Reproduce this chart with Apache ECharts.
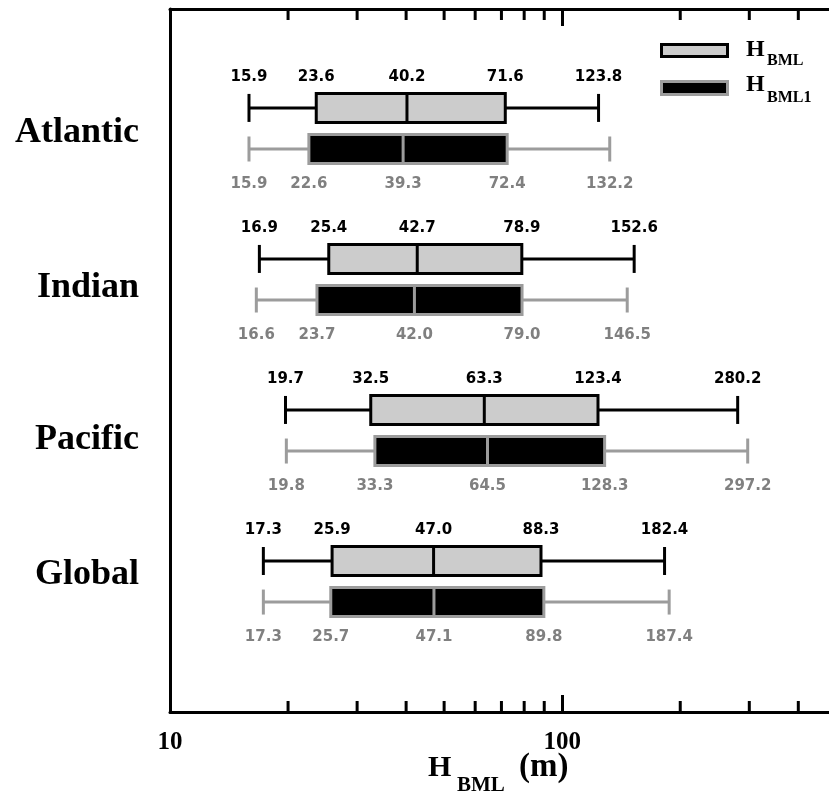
<!DOCTYPE html>
<html><head><meta charset="utf-8">
<script src="https://cdn.jsdelivr.net/npm/echarts@6/dist/echarts.min.js"></script>
<style>html,body{margin:0;padding:0;background:#fff}#c{width:829px;height:803px}</style>
</head><body><div id="c"></div>
<script>
const categories = ['Atlantic', 'Indian', 'Pacific', 'Global'];
// [min, Q1, median, Q3, max]
const hbml = [
  [15.9, 23.6, 40.2, 71.6, 123.8],
  [16.9, 25.4, 42.7, 78.9, 152.6],
  [19.7, 32.5, 63.3, 123.4, 280.2],
  [17.3, 25.9, 47.0, 88.3, 182.4]
];
const hbml1 = [
  [15.9, 22.6, 39.3, 72.4, 132.2],
  [16.6, 23.7, 42.0, 79.0, 146.5],
  [19.8, 33.3, 64.5, 128.3, 297.2],
  [17.3, 25.7, 47.1, 89.8, 187.4]
];
const majorTicks = [10, 100];
const minorTicks = [20, 30, 40, 50, 60, 70, 80, 90, 200, 300, 400];
const xMin = 10, xMax = 479;
const yMin = -0.791, yMax = 3.864;
// layout only: vertical nudge (px) of each category name
const catLabelNudge = [4.5, 8.5, 9.5, -6.5];

const SERIF = '"Liberation Serif", "Times New Roman", serif';
const SANS = '"DejaVu Sans", sans-serif';

function makeRender(st) {
  return function (params, api) {
    const i = api.value(0);
    const xs = [1, 2, 3, 4, 5].map(k => api.coord([api.value(k), i])[0]);
    const vals = [1, 2, 3, 4, 5].map(k => api.value(k));
    const base = api.coord([xMin, i]);
    const unit = api.size([0, 1])[1];
    const yc = base[1] + st.offset * unit;
    const h = st.boxH;
    const children = [];
    const ls = { stroke: st.stroke, lineWidth: 3 };
    children.push({ type: 'line', shape: { x1: xs[0], y1: yc, x2: xs[1], y2: yc }, style: ls });
    children.push({ type: 'line', shape: { x1: xs[3], y1: yc, x2: xs[4], y2: yc }, style: ls });
    children.push({ type: 'line', shape: { x1: xs[0], y1: yc - st.capH / 2, x2: xs[0], y2: yc + st.capH / 2 }, style: ls });
    children.push({ type: 'line', shape: { x1: xs[4], y1: yc - st.capH / 2, x2: xs[4], y2: yc + st.capH / 2 }, style: ls });
    children.push({ type: 'rect', shape: { x: xs[1], y: yc - h / 2, width: xs[3] - xs[1], height: h },
      style: { fill: st.fill, stroke: st.stroke, lineWidth: 3 } });
    children.push({ type: 'line', shape: { x1: xs[2], y1: yc - h / 2, x2: xs[2], y2: yc + h / 2 }, style: ls });
    for (let k = 0; k < 5; k++) {
      children.push({ type: 'text', style: {
        text: vals[k].toFixed(1), x: xs[k], y: yc + st.labelDy,
        align: 'center', verticalAlign: 'middle',
        font: 'bold 15px ' + SANS, fill: st.labelColor } });
    }
    if (st.catLabel) {
      children.push({ type: 'text', style: {
        text: categories[i], x: base[0] - 31, y: base[1] + catLabelNudge[i],
        align: 'right', verticalAlign: 'middle',
        font: 'bold 36px ' + SERIF, fill: '#000' } });
    }
    return { type: 'group', children };
  };
}

function renderTicks(params, api) {
  const v = api.value(0);
  const t = api.coord([v, yMin]);
  const b = api.coord([v, yMax]);
  const ls = { stroke: '#000', lineWidth: 3 };
  return { type: 'group', children: [
    { type: 'line', shape: { x1: t[0], y1: t[1], x2: t[0], y2: t[1] + 11 }, style: ls },
    { type: 'line', shape: { x1: b[0], y1: b[1], x2: b[0], y2: b[1] - 11 }, style: ls }
  ] };
}

const xAxisCommon = {
  type: 'log', logBase: 10, min: xMin, max: xMax,
  axisLine: { show: true, onZero: false, lineStyle: { color: '#000', width: 3 } },
  axisTick: { show: true, inside: true, length: 17, customValues: majorTicks, lineStyle: { color: '#000', width: 3 } },
  splitLine: { show: false }, minorTick: { show: false }
};

const chart = echarts.init(document.getElementById('c'));
chart.setOption({
  animation: false,
  backgroundColor: '#fff',
  grid: { left: 170, right: 0, top: 9, bottom: 91, containLabel: false },
  xAxis: [
    Object.assign({}, xAxisCommon, {
      position: 'bottom',
      axisLabel: { show: true, customValues: majorTicks, margin: 31, verticalAlign: 'middle',
        color: '#000', fontFamily: SERIF, fontWeight: 'bold', fontSize: 25,
        formatter: v => String(Math.round(v)) }
    }),
    Object.assign({}, xAxisCommon, { position: 'top', axisLabel: { show: false } })
  ],
  yAxis: {
    type: 'value', inverse: true, min: yMin, max: yMax,
    axisLine: { show: true, onZero: false, lineStyle: { color: '#000', width: 3 } },
    axisTick: { show: false }, axisLabel: { show: false }, splitLine: { show: false }
  },
  series: [
    { type: 'custom', name: 'HBML', renderItem: makeRender({ offset: -0.136, boxH: 29, capH: 28,
        stroke: '#000', fill: '#cccccc', labelColor: '#000', labelDy: -31, catLabel: true }),
      data: hbml.map((d, i) => [i].concat(d)), encode: { x: [1, 2, 3, 4, 5], y: 0 }, clip: false, z: 3 },
    { type: 'custom', name: 'HBML1', renderItem: makeRender({ offset: 0.136, boxH: 29, capH: 25,
        stroke: '#9c9c9c', fill: '#000', labelColor: '#808080', labelDy: 35, catLabel: false }),
      data: hbml1.map((d, i) => [i].concat(d)), encode: { x: [1, 2, 3, 4, 5], y: 0 }, clip: false, z: 3 },
    { type: 'custom', name: 'minorTicks', renderItem: renderTicks, silent: true,
      data: minorTicks.map(v => [v, 0]), encode: { x: 0, y: 1 }, clip: false, z: 2 }
  ],
  graphic: [
    { type: 'rect', shape: { x: 661.5, y: 44.5, width: 66, height: 12 }, style: { fill: '#cccccc', stroke: '#000', lineWidth: 3 } },
    { type: 'rect', shape: { x: 661.5, y: 81.5, width: 66, height: 13 }, style: { fill: '#000', stroke: '#9c9c9c', lineWidth: 3 } },
    { type: 'text', style: { text: 'H', x: 746, y: 49.5, align: 'left', verticalAlign: 'middle', font: 'bold 24px ' + SERIF, fill: '#000' } },
    { type: 'text', style: { text: 'BML', x: 767, y: 61, align: 'left', verticalAlign: 'middle', font: 'bold 16px ' + SERIF, fill: '#000' } },
    { type: 'text', style: { text: 'H', x: 746, y: 85, align: 'left', verticalAlign: 'middle', font: 'bold 24px ' + SERIF, fill: '#000' } },
    { type: 'text', style: { text: 'BML1', x: 767, y: 97.5, align: 'left', verticalAlign: 'middle', font: 'bold 16px ' + SERIF, fill: '#000' } },
    { type: 'text', style: { text: 'H', x: 428, y: 768, align: 'left', verticalAlign: 'middle', font: 'bold 30px ' + SERIF, fill: '#000' } },
    { type: 'text', style: { text: 'BML', x: 457, y: 786, align: 'left', verticalAlign: 'middle', font: 'bold 21px ' + SERIF, fill: '#000' } },
    { type: 'text', style: { text: '(m)', x: 519, y: 767, align: 'left', verticalAlign: 'middle', font: 'bold 33px ' + SERIF, fill: '#000' } }
  ]
});
</script></body></html>
